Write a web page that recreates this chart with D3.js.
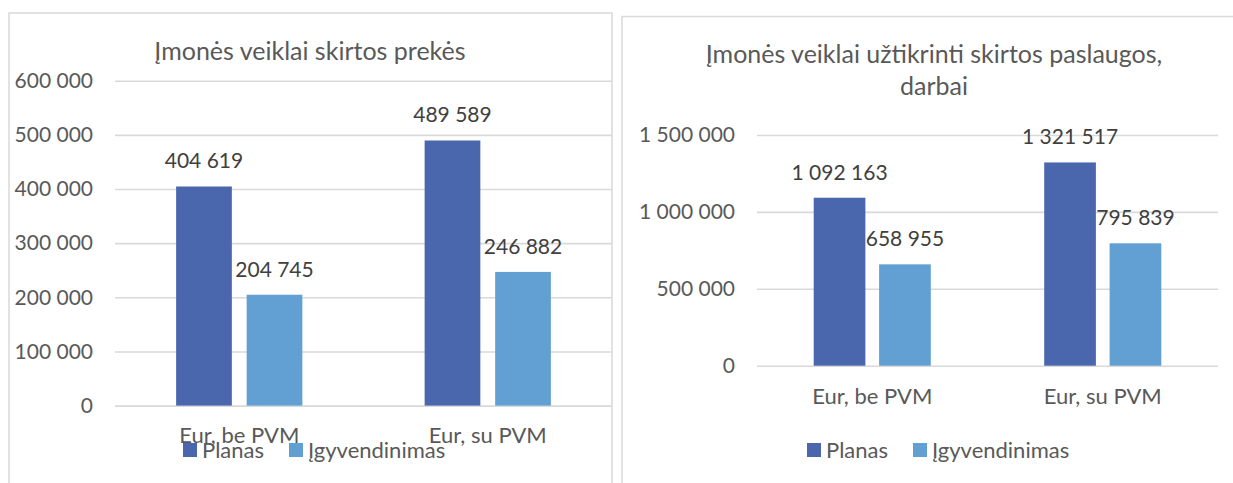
<!DOCTYPE html>
<html>
<head>
<meta charset="utf-8">
<script src="https://cdn.jsdelivr.net/npm/d3@7"></script>
<style>
  html, body { margin: 0; padding: 0; background: #fff; }
  svg { display: block; }
  text { font-family: Lato, "Open Sans", sans-serif; }
</style>
</head>
<body>
<svg id="chart" width="1233" height="483"></svg>
<script>
// ---- Data ----
const categories = ["Eur, be PVM", "Eur, su PVM"];
const seriesNames = ["Planas", "Įgyvendinimas"];
const goodsPlan = [404619, 489589];
const goodsActual = [204745, 246882];
const servicesPlan = [1092163, 1321517];
const servicesActual = [658955, 795839];
const goodsTicks = [0, 100000, 200000, 300000, 400000, 500000, 600000];
const servicesTicks = [0, 500000, 1000000, 1500000];
const goodsTitle = ["Įmonės veiklai skirtos prekės"];
const servicesTitle = ["Įmonės veiklai užtikrinti skirtos paslaugos,", "darbai"];

const colors = ["#4a66ac", "#629fd2"];
const locale = d3.formatLocale({decimal: ",", thousands: " ", grouping: [3], currency: ["", ""]});
const fmt = locale.format(",");

const svg = d3.select("#chart");

function drawChart(cfg) {
  const g = svg.append("g");
  // frame
  g.append("rect")
    .attr("x", cfg.frame[0]).attr("y", cfg.frame[1])
    .attr("width", cfg.frame[2]).attr("height", cfg.frame[3])
    .attr("fill", "none").attr("stroke", "#d9d9d9").attr("stroke-width", 1.5);

  const x0 = d3.scaleBand().domain(categories)
    .range([cfg.plotX0, cfg.plotX1]).paddingInner(0.492).paddingOuter(0.246);
  const x1 = d3.scaleBand().domain(seriesNames)
    .range([0, x0.bandwidth()]).paddingInner(0.21);
  const y = d3.scaleLinear().domain([0, cfg.max]).range([cfg.y0, cfg.yTop]);

  // gridlines
  const yAxis = d3.axisLeft(y).tickValues(cfg.ticks).tickFormat(fmt)
    .tickSize(-(cfg.plotX1 - cfg.plotX0)).tickPadding(22);
  const ax = g.append("g").attr("transform", `translate(${cfg.plotX0},0)`).call(yAxis);
  ax.select(".domain").remove();
  ax.selectAll(".tick line").attr("stroke", "#d9d9d9").attr("stroke-width", 1.6);
  ax.selectAll(".tick text").attr("fill", "#595959").attr("font-size", 21)
    .attr("font-family", "Lato, sans-serif");

  const rows = categories.map((c, i) => ({cat: c, vals: [cfg.plan[i], cfg.actual[i]]}));
  const grp = g.selectAll(".grp").data(rows).enter().append("g")
    .attr("transform", d => `translate(${x0(d.cat)},0)`);
  grp.selectAll("rect").data(d => d.vals.map((v, j) => ({v, s: seriesNames[j], j})))
    .enter().append("rect")
    .attr("x", d => x1(d.s)).attr("width", x1.bandwidth())
    .attr("y", d => y(d.v)).attr("height", d => y(0) - y(d.v))
    .attr("fill", d => colors[d.j]);
  grp.selectAll("text.val").data(d => d.vals.map((v, j) => ({v, s: seriesNames[j], j})))
    .enter().append("text").attr("class", "val")
    .attr("x", d => x1(d.s) + x1.bandwidth() / 2)
    .attr("y", d => y(d.v) - 18)
    .attr("text-anchor", "middle").attr("font-size", 21).attr("fill", "#404040")
    .text(d => fmt(d.v));

  // category labels
  g.selectAll(".cat").data(categories).enter().append("text")
    .attr("x", d => x0(d) + x0.bandwidth() / 2)
    .attr("y", cfg.catY)
    .attr("text-anchor", "middle").attr("font-size", 22).attr("fill", "#595959")
    .text(d => d);

  // title
  const t = g.append("text").attr("text-anchor", "middle")
    .attr("font-size", 25).attr("fill", "#595959");
  cfg.title.forEach((line, i) => {
    t.append("tspan").attr("x", cfg.titleX).attr("y", cfg.titleY + i * 32).text(line);
  });

  // legend
  const lg = g.selectAll(".lg").data(seriesNames).enter().append("g")
    .attr("transform", (d, i) => `translate(${cfg.legendX + i * 106},${cfg.legendY})`);
  lg.append("rect").attr("x", 0).attr("y", -7).attr("width", 14).attr("height", 14)
    .attr("fill", (d, i) => colors[i]);
  lg.append("text").attr("x", 19).attr("y", 8).attr("font-size", 22)
    .attr("fill", "#595959").text(d => d);
}

drawChart({
  frame: [9, 13, 603, 500],
  plotX0: 115, plotX1: 612, y0: 405.6, yTop: 80.7, max: 600000,
  ticks: goodsTicks, plan: goodsPlan, actual: goodsActual,
  catY: 443, title: goodsTitle, titleX: 310, titleY: 60,
  legendX: 183, legendY: 450
});

drawChart({
  frame: [622, 16.5, 640, 500],
  plotX0: 757, plotX1: 1218, y0: 365.7, yTop: 135, max: 1500000,
  ticks: servicesTicks, plan: servicesPlan, actual: servicesActual,
  catY: 404, title: servicesTitle, titleX: 934, titleY: 63,
  legendX: 807, legendY: 450
});
</script>
</body>
</html>
